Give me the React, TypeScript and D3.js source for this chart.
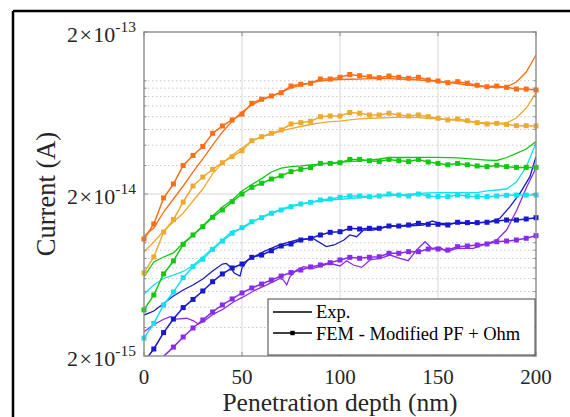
import React from 'react';
import * as d3 from 'd3';

// Values in units of 1e-15 A (fA); depth in nm
const FA = 1e-15;
const depthFEM = d3.range(0, 201, 5);

const orangeFEM = [10.55,13.06,18.9,23.05,30.0,34.6,39.3,47.4,52.6,57.3,62.3,72.6,76.9,80.5,84.4,92.8,95.1,96.5,102.5,102.5,105.1,109.3,107.5,106.0,104.4,107.0,105.1,103.6,105.1,101.1,99.7,97.3,98.7,96.5,93.8,91.9,92.8,91.1,88.9,88.9,87.7];
const orangeExp = [11.01,12.34,15.48,18.63,22.41,27.35,32.9,40.1,48.3,56.4,64.1,70.9,76.1,80.5,85.2,90.2,94.1,96.9,99.7,101.1,101.8,102.2,102.5,103.0,103.3,103.3,102.5,102.2,101.1,100.4,98.7,97.6,96.2,94.1,92.8,91.5,91.1,91.5,98.3,113.3,144.2];

const goldFEM = [6.51,8.17,11.65,13.92,17.85,22.41,25.46,28.4,31.2,34.0,37.0,42.7,45.2,47.4,49.7,54.1,55.1,56.2,60.0,60.6,60.6,63.7,63.0,61.5,61.5,63.0,61.5,60.6,61.5,60.0,58.7,57.3,58.1,56.7,55.1,54.1,54.6,53.8,52.8,52.8,52.6];
const goldExp = [8.77,10.11,11.82,13.43,15.27,18.10,21.47,26.6,31.1,34.8,38.5,42.5,45.0,46.9,49.0,50.7,52.2,53.7,54.9,56.0,56.4,57.3,58.1,58.7,58.9,59.3,59.4,59.4,59.3,58.7,58.1,57.5,56.9,56.0,55.4,54.9,54.6,54.9,58.9,67.9,84.1];

const greenFEM = [3.85,4.76,6.42,7.72,9.78,11.17,12.57,14.36,15.93,17.93,20.0,22.0,23.3,24.75,25.9,27.5,28.4,29.1,30.9,30.9,31.2,32.7,32.7,32.1,31.7,32.7,32.1,31.7,32.7,31.5,30.9,30.3,30.9,30.3,29.8,29.5,30.1,29.5,29.2,29.2,29.2];
const greenExp = [6.15,7.61,8.17,8.65,9.97,11.17,12.69,14.63,16.63,18.37,20.9,22.9,24.9,27.35,28.9,29.5,29.8,30.2,30.6,31.1,31.5,31.7,32.0,32.4,32.9,33.6,33.6,33.6,33.7,33.7,33.7,33.5,33.4,33.1,32.7,32.4,32.2,33.6,35.6,37.9,42.1];

const cyanFEM = [2.58,3.18,4.13,4.97,6.09,7.12,7.91,9.11,10.25,11.44,12.39,13.49,14.28,15.20,15.93,16.70,17.35,17.78,18.37,18.63,19.08,19.44,19.44,19.26,19.44,20.0,19.7,19.44,20.0,19.44,19.26,19.26,19.7,19.44,19.26,19.26,19.44,19.63,19.7,19.7,19.7];
const cyanExp = [4.83,5.49,6.02,6.32,6.65,7.24,8.17,9.22,10.40,11.82,12.16,13.34,14.42,15.38,16.16,16.87,17.35,17.78,18.10,18.37,18.55,18.76,19.03,19.17,19.44,19.58,19.7,19.86,20.14,20.3,20.4,20.4,20.4,20.4,20.4,20.9,21.17,21.47,23.7,29.4,41.3];

const blueFEM = [1.84,2.21,2.79,3.38,3.98,4.47,5.04,5.75,6.42,6.99,7.39,8.13,8.40,8.93,9.55,9.83,10.40,10.66,11.17,11.60,11.70,12.28,12.16,12.28,12.28,12.69,12.69,12.87,13.19,13.00,13.00,12.87,13.38,13.31,13.31,13.38,13.62,13.82,13.82,14.02,14.28];
const blueExpDepth = [0,5,10,15,20,25,30,35,40,42,44,46,49,50,53,61,69,78,86,93,97,102,105,108.5,112,117,125.5,134,142.5,147,151,160,168,176.5,181.6,186.7,191.8,196.9,200];
const blueExp = [3.58,3.79,4.22,4.69,5.11,5.49,5.98,6.69,7.39,7.45,7.09,6.51,6.23,6.99,7.83,8.81,9.69,10.40,10.66,9.46,9.69,10.40,11.17,10.90,11.99,11.99,12.69,12.69,12.87,13.62,13.19,13.19,13.19,13.49,14.16,16.70,20.2,25.6,34.0];

const purpleFEM = [1.38,1.66,1.99,2.27,2.62,2.98,3.34,3.74,4.13,4.50,4.90,5.26,5.56,5.89,6.23,6.55,6.79,7.09,7.29,7.53,7.83,8.13,8.02,8.13,8.20,8.61,8.61,8.81,8.81,9.15,9.15,9.02,9.46,9.55,9.69,9.83,10.15,10.25,10.40,10.66,11.06];
const purpleExpDepth = [0,4.7,9.8,13.3,16.7,21.8,25.2,27.7,30.3,35.4,40.5,45.6,50.7,55.8,62.6,69.4,71.1,72.8,74.5,77.9,81.3,86.4,94.9,100,103.4,106.8,111.1,115.3,120.4,125.5,130.6,134.8,139.1,143.4,146.8,151,154.4,159.5,168,173.1,180,185,190.2,195.3,200];
const purpleExp = [2.82,3.11,3.36,3.50,3.38,3.42,3.30,3.15,3.26,3.63,3.90,4.31,4.63,5.04,5.49,6.02,5.89,5.49,6.19,6.79,7.12,6.96,7.47,7.19,7.75,7.29,7.05,7.83,8.02,8.40,8.02,7.75,9.02,10.15,9.24,9.38,8.81,9.24,9.24,9.69,10.40,11.99,15.93,22.2,28.9];

const xTicks = [0, 50, 100, 150, 200];
const yMajor = [2e-15, 2e-14, 2e-13];
const yMajorExp = ['-15', '-14', '-13'];
const legendLabels = ['Exp.', 'FEM - Modified PF + Ohm'];
const xLabel = 'Penetration depth (nm)';
const yLabel = 'Current (A)';

const series = [
  { color: '#FF6D14', expX: depthFEM, exp: orangeExp, fem: orangeFEM },
  { color: '#EEAA30', expX: depthFEM, exp: goldExp, fem: goldFEM },
  { color: '#12C812', expX: depthFEM, exp: greenExp, fem: greenFEM },
  { color: '#12E2EE', expX: depthFEM, exp: cyanExp, fem: cyanFEM },
  { color: '#1818CC', expX: blueExpDepth, exp: blueExp, fem: blueFEM },
  { color: '#8A2BEB', expX: purpleExpDepth, exp: purpleExp, fem: purpleFEM },
];

const FONT = '"Liberation Serif", "Times New Roman", serif';

export default function App() {
  const W = 570, H = 417;
  const L = 144, R = 536, T = 32, B = 356;
  const x = d3.scaleLinear().domain([0, 200]).range([L, R]);
  const y = d3.scaleLog().domain([2e-15, 2e-13]).range([B, T]);
  const allTicks = y.ticks();
  const isMajor = (v: number) => yMajor.some((m) => Math.abs(v / m - 1) < 1e-6);
  const minor = allTicks.filter((v) => !isMajor(v) && v > 2e-15 && v < 2e-13);

  const line = (xs: number[], vs: number[]) =>
    d3.line<number>().x((_, i) => x(xs[i])).y((v) => y(v * FA))(vs) || '';

  const axisColor = '#8c8c8c';
  const ms = 5;

  return (
    <svg width={W} height={H} style={{ position: 'absolute', left: 0, top: 0, background: '#fff' }} fontFamily={FONT}>
      <defs>
        <clipPath id="plotClip"><rect x={L} y={T} width={R - L} height={B - T} /></clipPath>
      </defs>
      <rect x={0} y={0} width={W} height={H} fill="#fff" />
      {/* outer frame */}
      <line x1={13} y1={11} x2={W} y2={11} stroke="#000" strokeWidth={2.5} />
      <line x1={13} y1={11} x2={13} y2={H} stroke="#000" strokeWidth={2.5} />

      {/* grid */}
      {minor.map((v, i) => (
        <line key={'mg' + i} x1={L} x2={R} y1={y(v)} y2={y(v)} stroke="#c8c8c8" strokeWidth={1} strokeDasharray="1.5,2.5" />
      ))}
      {xTicks.slice(1, -1).map((t) => (
        <line key={'xg' + t} x1={x(t)} x2={x(t)} y1={T} y2={B} stroke="#e4e4e4" strokeWidth={1.5} />
      ))}
      <line x1={L} x2={R} y1={y(2e-14)} y2={y(2e-14)} stroke="#e4e4e4" strokeWidth={1.5} />

      {/* data */}
      <g clipPath="url(#plotClip)">
        {series.map((s, i) => (
          <path key={'e' + i} d={line(s.expX, s.exp)} fill="none" stroke={s.color} strokeWidth={1.3} />
        ))}
        {series.map((s, i) => (
          <path key={'f' + i} d={line(depthFEM, s.fem)} fill="none" stroke={s.color} strokeWidth={1.5} />
        ))}
      </g>
      {series.map((s, i) => (
        <g key={'m' + i}>
          {s.fem.map((v, j) =>
            v * FA >= 2e-15 ? (
              <rect key={j} x={x(depthFEM[j]) - ms / 2} y={y(v * FA) - ms / 2} width={ms} height={ms} fill={s.color} />
            ) : null
          )}
        </g>
      ))}

      {/* axes box */}
      <rect x={L} y={T} width={R - L} height={B - T} fill="none" stroke={axisColor} strokeWidth={1.4} />
      {xTicks.map((t) => (
        <g key={'xt' + t}>
          <line x1={x(t)} x2={x(t)} y1={B} y2={B - 4} stroke={axisColor} />
          <line x1={x(t)} x2={x(t)} y1={T} y2={T + 4} stroke={axisColor} />
        </g>
      ))}
      {minor.map((v, i) => (
        <g key={'ymt' + i}>
          <line x1={L} x2={L + 2.5} y1={y(v)} y2={y(v)} stroke={axisColor} />
          <line x1={R} x2={R - 2.5} y1={y(v)} y2={y(v)} stroke={axisColor} />
        </g>
      ))}
      {yMajor.map((v, i) => (
        <g key={'yt' + i}>
          <line x1={L} x2={L + 4} y1={y(v)} y2={y(v)} stroke={axisColor} />
          <line x1={R} x2={R - 4} y1={y(v)} y2={y(v)} stroke={axisColor} />
        </g>
      ))}

      {/* tick labels */}
      {xTicks.map((t) => (
        <text key={'xl' + t} x={x(t)} y={384} textAnchor="middle" fontSize={21} fill="#262626">{t}</text>
      ))}
      {yMajor.map((v, i) => (
        <text key={'yl' + i} x={136} y={y(v) + 10} textAnchor="end" fontSize={22} fill="#262626">
          <tspan>2</tspan>
          <tspan dx={1.5}>×</tspan>
          <tspan dx={1.5}>10</tspan>
          <tspan dy={-10} fontSize={15.5}>{yMajorExp[i]}</tspan>
        </text>
      ))}

      {/* axis labels */}
      <text x={340} y={411} textAnchor="middle" fontSize={25.5} fill="#262626">{xLabel}</text>
      <text transform={`translate(55,194) rotate(-90)`} textAnchor="middle" fontSize={26.5} fill="#262626">{yLabel}</text>

      {/* legend */}
      <rect x={268} y={299} width={267} height={56} fill="#fff" stroke="#444" strokeWidth={1} />
      <line x1={273} x2={312} y1={312} y2={312} stroke="#000" strokeWidth={1.3} />
      <text x={316} y={318} fontSize={18.5} fill="#000">{legendLabels[0]}</text>
      <line x1={273} x2={312} y1={333} y2={333} stroke="#000" strokeWidth={1.5} />
      <rect x={292.5 - 2.2} y={333 - 2.2} width={4.4} height={4.4} fill="#000" />
      <text x={316} y={339.5} fontSize={18.5} fill="#000">{legendLabels[1]}</text>
    </svg>
  );
}
